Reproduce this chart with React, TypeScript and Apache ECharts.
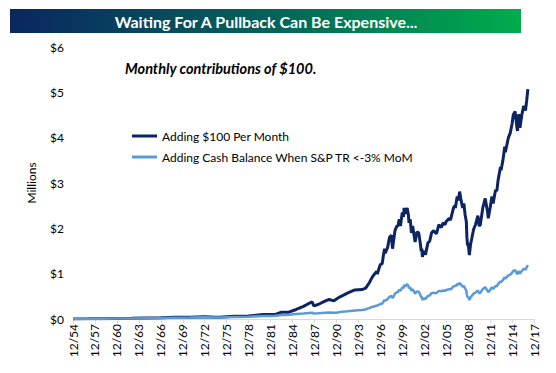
import React, { useEffect, useRef } from "react";
import * as echarts from "echarts";

const title = "Waiting For A Pullback Can Be Expensive...";
const subtitle = "Monthly contributions of $100.";
const seriesNames = ["Adding $100 Per Month", "Adding Cash Balance When S&P TR <-3% MoM"];
const yTicks = [0, 1, 2, 3, 4, 5, 6];

const dates = [
  "1954-12", "1956-12", "1958-12", "1960-12", "1962-12", "1964-12", "1966-12", "1968-12",
  "1970-12", "1972-12", "1974-06", "1974-12", "1976-12", "1978-12", "1980-12", "1981-12",
  "1982-08", "1983-06", "1984-06", "1985-06", "1986-06", "1987-08", "1987-11", "1988-06",
  "1989-06", "1989-12", "1990-08", "1990-12", "1991-06", "1992-06", "1993-06", "1994-06",
  "1994-12",
  "1995-03", "1995-06", "1995-09", "1995-12", "1996-03", "1996-06", "1996-07", "1996-09",
  "1996-12", "1997-03", "1997-05", "1997-07", "1997-08", "1997-10", "1997-12", "1998-03",
  "1998-06", "1998-08", "1998-10", "1998-12", "1999-03", "1999-05", "1999-07", "1999-09",
  "1999-12", "2000-02", "2000-03", "2000-05", "2000-08", "2000-10", "2000-11", "2001-01",
  "2001-03", "2001-05", "2001-09", "2001-12", "2002-03", "2002-06", "2002-07", "2002-08",
  "2002-09", "2002-11", "2003-02", "2003-06", "2003-09", "2003-12", "2004-03", "2004-08",
  "2004-12", "2005-04", "2005-07", "2005-10", "2005-12", "2006-05", "2006-07", "2006-12",
  "2007-02", "2007-03", "2007-06", "2007-08", "2007-10", "2007-12", "2008-03", "2008-05",
  "2008-07", "2008-09", "2008-10", "2008-11", "2008-12", "2009-02", "2009-04", "2009-06",
  "2009-09", "2009-12", "2010-04", "2010-06", "2010-08", "2010-12", "2011-04", "2011-08",
  "2011-09", "2011-12", "2012-03", "2012-05", "2012-09", "2012-11", "2013-01", "2013-05",
  "2013-06", "2013-09", "2013-12", "2014-01", "2014-06", "2014-09", "2014-12", "2015-02",
  "2015-05", "2015-08", "2015-09", "2015-11", "2016-01", "2016-02", "2016-04", "2016-07",
  "2016-10", "2016-12", "2017-02",
];

const monthlyValues = [
  0.0001, 0.003, 0.006, 0.01, 0.014, 0.022, 0.025, 0.036,
  0.038, 0.052, 0.04, 0.036, 0.058, 0.066, 0.098, 0.1,
  0.1, 0.15, 0.15, 0.21, 0.28, 0.38, 0.29, 0.32,
  0.4, 0.43, 0.4, 0.44, 0.49, 0.57, 0.64, 0.65,
  0.68,
  0.74, 0.8, 0.88, 0.95, 1.0, 1.05, 0.99, 1.08,
  1.2, 1.22, 1.4, 1.55, 1.45, 1.52, 1.58, 1.8,
  1.85, 1.55, 1.75, 1.95, 2.05, 2.05, 2.2, 2.05,
  2.35, 2.25, 2.45, 2.32, 2.45, 2.3, 2.12, 2.2,
  1.9, 2.05, 1.7, 1.92, 1.9, 1.62, 1.5, 1.55,
  1.37, 1.5, 1.42, 1.68, 1.72, 1.9, 1.95, 1.88,
  2.08, 2.02, 2.12, 2.08, 2.15, 2.22, 2.18, 2.45,
  2.5, 2.45, 2.7, 2.62, 2.81, 2.65, 2.45, 2.55,
  2.3, 2.15, 1.8, 1.62, 1.68, 1.41, 1.65, 1.78,
  1.98, 2.08, 2.28, 2.05, 2.08, 2.45, 2.66, 2.35,
  2.22, 2.45, 2.7, 2.55, 2.85, 2.82, 3.05, 3.35,
  3.28, 3.5, 3.8, 3.68, 4.0, 4.1, 4.3, 4.5,
  4.58, 4.22, 4.15, 4.52, 4.22, 4.22, 4.5, 4.7,
  4.6, 4.82, 5.07,
];

const cashValues = [
  0.0001, 0.003, 0.005, 0.009, 0.012, 0.018, 0.021, 0.029,
  0.031, 0.041, 0.035, 0.033, 0.045, 0.05, 0.066, 0.068,
  0.07, 0.09, 0.095, 0.11, 0.12, 0.14, 0.12, 0.125,
  0.14, 0.145, 0.14, 0.14, 0.155, 0.17, 0.19, 0.2,
  0.21,
  0.23, 0.24, 0.26, 0.27, 0.28, 0.3, 0.29, 0.31,
  0.33, 0.34, 0.38, 0.42, 0.4, 0.42, 0.44, 0.49,
  0.51, 0.46, 0.5, 0.56, 0.59, 0.6, 0.65, 0.62,
  0.7, 0.68, 0.75, 0.72, 0.77, 0.73, 0.68, 0.7,
  0.62, 0.66, 0.56, 0.61, 0.6, 0.52, 0.48, 0.49,
  0.42, 0.46, 0.44, 0.51, 0.52, 0.57, 0.58, 0.57,
  0.62, 0.61, 0.63, 0.62, 0.64, 0.66, 0.65, 0.72,
  0.73, 0.72, 0.77, 0.75, 0.8, 0.76, 0.71, 0.73,
  0.67, 0.63, 0.53, 0.48, 0.49, 0.42, 0.48, 0.51,
  0.56, 0.58, 0.63, 0.57, 0.58, 0.66, 0.7, 0.62,
  0.59, 0.64, 0.7, 0.66, 0.73, 0.72, 0.77, 0.83,
  0.81, 0.86, 0.92, 0.89, 0.96, 0.98, 1.02, 1.06,
  1.08, 1.0, 0.99, 1.06, 1.0, 1.0, 1.06, 1.11,
  1.09, 1.14, 1.19,
];

const monthIndex = (d: string) => {
  const [y, m] = d.split("-").map(Number);
  return (y - 1954) * 12 + (m - 12);
};

const FONT = "Lato";

export default function App() {
  const ref = useRef<HTMLDivElement>(null);
  useEffect(() => {
    if (!ref.current) return;
    const chart = echarts.init(ref.current, null, { renderer: "svg" });
    chart.setOption({
      animation: false,
      backgroundColor: "#ffffff",
      textStyle: { fontFamily: FONT },
      graphic: [
        {
          type: "rect",
          shape: { x: 10, y: 9, width: 511, height: 24 },
          style: {
            fill: new echarts.graphic.LinearGradient(0, 0, 1, 0, [
              { offset: 0, color: "#0b2660" },
              { offset: 0.5, color: "#04625a" },
              { offset: 1, color: "#00ad4c" },
            ]),
          },
        },
        {
          type: "text",
          x: 266,
          y: 21,
          style: {
            text: title,
            fill: "#ffffff",
            font: `bold 16px ${FONT}`,
            align: "center",
            verticalAlign: "middle",
          },
        },
        {
          type: "text",
          x: 125,
          y: 68,
          style: {
            text: subtitle,
            fill: "#000000",
            font: `italic bold 14.5px ${FONT}`,
            align: "left",
            verticalAlign: "middle",
          },
        },
      ],
      legend: {
        orient: "vertical",
        left: 127,
        top: 125,
        itemWidth: 25,
        itemHeight: 3,
        itemGap: 9,
        icon: "rect",
        textStyle: { fontFamily: FONT, fontSize: 12, color: "#000" },
        data: seriesNames,
      },
      grid: { left: 73, right: 22, top: 47, bottom: 54, containLabel: false },
      xAxis: {
        type: "value",
        min: 0,
        max: 756,
        interval: 36,
        axisLine: { lineStyle: { color: "#d9d9d9" } },
        axisTick: { show: true, length: 4, lineStyle: { color: "#d9d9d9" } },
        splitLine: { show: false },
        axisLabel: {
          rotate: 90,
          color: "#000",
          fontFamily: FONT,
          fontSize: 12,
          margin: 5,
          formatter: (v: number) => "12/" + String((54 + v / 12) % 100).padStart(2, "0"),
        },
      },
      yAxis: {
        type: "value",
        min: yTicks[0],
        max: yTicks[yTicks.length - 1],
        interval: 1,
        name: "Millions",
        nameLocation: "middle",
        nameRotate: 90,
        nameGap: 36,
        nameTextStyle: { color: "#000", fontFamily: FONT, fontSize: 12 },
        axisLine: { show: false },
        axisTick: { show: false },
        splitLine: { show: false },
        axisLabel: {
          color: "#000",
          fontFamily: FONT,
          fontSize: 12,
          margin: 9,
          formatter: (v: number) => "$" + v,
        },
      },
      series: [
        {
          name: seriesNames[0],
          type: "line",
          showSymbol: false,
          data: dates.map((d, i) => [monthIndex(d), monthlyValues[i]]),
          lineStyle: { color: "#0c2461", width: 3 },
          itemStyle: { color: "#0c2461" },
        },
        {
          name: seriesNames[1],
          type: "line",
          showSymbol: false,
          data: dates.map((d, i) => [monthIndex(d), cashValues[i]]),
          lineStyle: { color: "#5b9bd5", width: 2.5 },
          itemStyle: { color: "#5b9bd5" },
        },
      ],
    });
    return () => chart.dispose();
  }, []);
  return <div ref={ref} style={{ width: 556, height: 373, position: "absolute", left: 0, top: 0 }} />;
}
